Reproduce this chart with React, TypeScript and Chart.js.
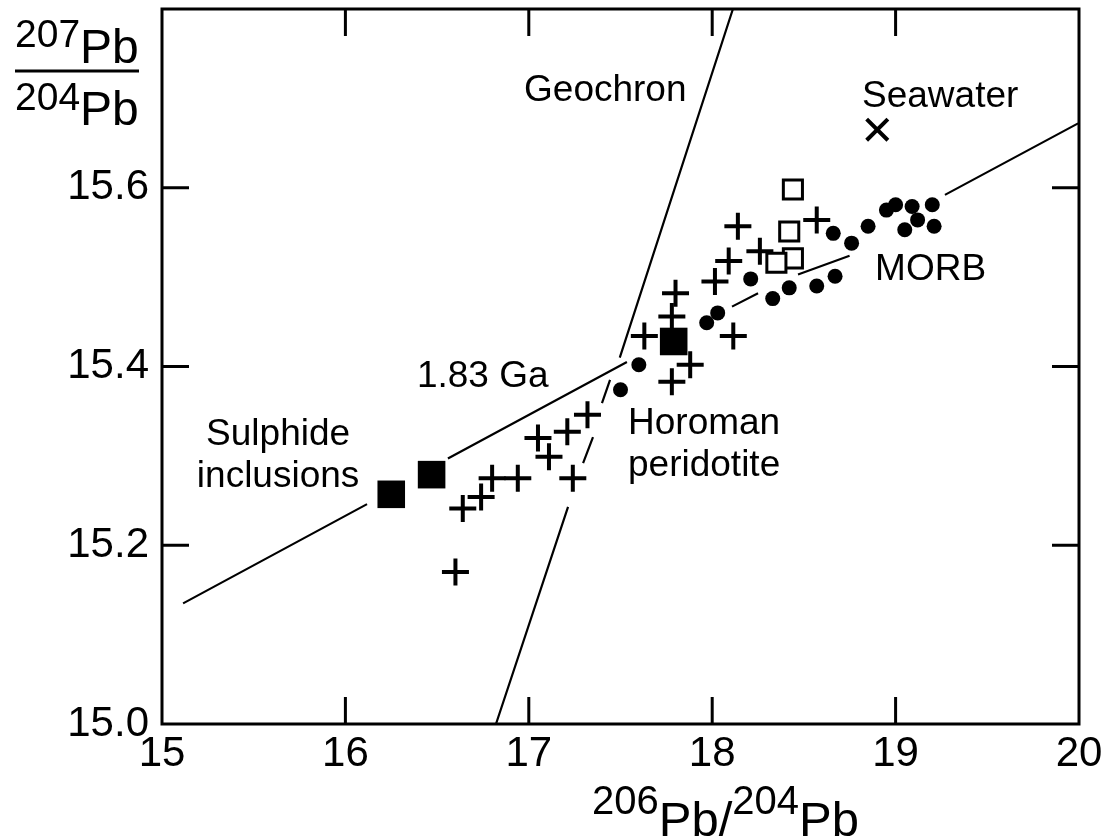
import React, { useEffect, useRef } from 'react';
import { Chart, registerables } from 'chart.js';

Chart.register(...registerables);

const FONT = '"Liberation Sans", Arial, Helvetica, sans-serif';

const xTickValues = [15, 16, 17, 18, 19, 20];
const yTickValues = [15.0, 15.2, 15.4, 15.6];

// Horoman peridotite (crosses)
const horomanX = [16.60, 16.64, 16.74, 16.80, 16.94, 17.05, 17.11, 17.21, 17.24, 17.32, 17.63, 17.78, 17.88, 17.78, 17.80, 18.015, 18.09, 18.14, 18.26, 18.115, 18.57];
const horomanY = [15.170, 15.241, 15.254, 15.275, 15.275, 15.320, 15.299, 15.327, 15.275, 15.346, 15.434, 15.383, 15.402, 15.456, 15.482, 15.495, 15.518, 15.557, 15.529, 15.434, 15.564];

// MORB (dots)
const morbX = [17.50, 17.60, 17.97, 18.03, 18.21, 18.33, 18.42, 18.57, 18.67, 18.66, 18.76, 18.85, 18.95, 19.00, 19.09, 19.20, 19.12, 19.05, 19.21];
const morbY = [15.374, 15.402, 15.449, 15.460, 15.498, 15.476, 15.488, 15.490, 15.501, 15.549, 15.538, 15.557, 15.575, 15.581, 15.579, 15.581, 15.564, 15.553, 15.557];

// open squares
const openSqX = [18.44, 18.42, 18.44, 18.35];
const openSqY = [15.598, 15.551, 15.521, 15.516];

// sulphide inclusions (filled squares)
const sulphideX = [16.25, 16.47, 17.79];
const sulphideY = [15.257, 15.279, 15.428];

// seawater
const seawaterX = [18.90];
const seawaterY = [15.665];

// Geochron line segments [x1, y1, x2, y2]
const geochronSegments = [
  [18.113, 15.800, 17.496, 15.410],
  [17.443, 15.385, 17.399, 15.359],
  [17.350, 15.321, 17.296, 15.292],
  [17.214, 15.243, 16.821, 15.000],
];

// 1.83 Ga isochron segments [x1, y1, x2, y2]
const isochronSegments = [
  [15.115, 15.135, 16.118, 15.246],
  [16.559, 15.297, 17.535, 15.405],
  [18.108, 15.467, 18.250, 15.482],
  [18.468, 15.503, 18.749, 15.524],
  [19.269, 15.592, 19.995, 15.672],
];

// text annotations (data coords, baseline)
const annoText = ['Geochron', 'Seawater', 'MORB', '1.83 Ga', 'Sulphide', 'inclusions', 'Horoman', 'peridotite'];
const annoX = [16.974, 18.817, 18.888, 16.390, 15.633, 15.633, 17.541, 17.541];
const annoY = [15.697, 15.690, 15.497, 15.377, 15.312, 15.265, 15.324, 15.277];
const annoAlign = ['left', 'left', 'left', 'left', 'center', 'center', 'left', 'left'];

const pts = (xs: number[], ys: number[]) => xs.map((x, i) => ({ x, y: ys[i] }));
const segs = (s: number[][]) => {
  const out: { x: number | null; y: number | null }[] = [];
  s.forEach((g, i) => {
    if (i > 0) out.push({ x: null, y: null });
    out.push({ x: g[0], y: g[1] });
    out.push({ x: g[2], y: g[3] });
  });
  return out;
};

const drawRuns = (ctx: CanvasRenderingContext2D, x0: number, runs: [string, number, number][]) => {
  let x = x0;
  for (const [t, size, base] of runs) {
    ctx.font = `${size}px ${FONT}`;
    ctx.fillText(t, x, base);
    x += ctx.measureText(t).width;
  }
};

const framePlugin = {
  id: 'frameAndText',
  afterDatasetsDraw(chart: any) {
    const { ctx, chartArea: a, scales } = chart;
    const xs = scales.x;
    const ys = scales.y;
    ctx.save();
    ctx.strokeStyle = '#000';
    ctx.fillStyle = '#000';
    ctx.lineWidth = 3;
    ctx.strokeRect(a.left, a.top, a.right - a.left, a.bottom - a.top);
    const TL = 27;
    ctx.beginPath();
    for (const v of xTickValues) {
      const px = xs.getPixelForValue(v);
      if (px <= a.left + 1 || px >= a.right - 1) continue;
      ctx.moveTo(px, a.bottom);
      ctx.lineTo(px, a.bottom - TL);
      ctx.moveTo(px, a.top);
      ctx.lineTo(px, a.top + TL);
    }
    for (const v of yTickValues) {
      const py = ys.getPixelForValue(v);
      if (py >= a.bottom - 1 || py <= a.top + 1) continue;
      ctx.moveTo(a.left, py);
      ctx.lineTo(a.left + TL, py);
      ctx.moveTo(a.right, py);
      ctx.lineTo(a.right - TL, py);
    }
    ctx.stroke();

    // annotations
    ctx.font = `37px ${FONT}`;
    ctx.textBaseline = 'alphabetic';
    annoText.forEach((t, i) => {
      ctx.textAlign = annoAlign[i] as CanvasTextAlign;
      ctx.fillText(t, xs.getPixelForValue(annoX[i]), ys.getPixelForValue(annoY[i]));
    });

    // y axis title (fraction)
    ctx.textAlign = 'left';
    drawRuns(ctx, 15, [['207', 39, 47], ['Pb', 48, 63]]);
    ctx.lineWidth = 3;
    ctx.beginPath();
    ctx.moveTo(15, 71);
    ctx.lineTo(139, 71);
    ctx.stroke();
    drawRuns(ctx, 15, [['204', 39, 110], ['Pb', 48, 125]]);

    // x axis title
    drawRuns(ctx, 592, [['206', 40, 814], ['Pb', 49, 836], ['/', 49, 836], ['204', 40, 814], ['Pb', 49, 836]]);
    ctx.restore();
  },
};

export default function App() {
  const ref = useRef<HTMLCanvasElement | null>(null);
  useEffect(() => {
    document.body.style.margin = '0';
    const canvas = ref.current!;
    Chart.defaults.color = '#000';
    const chart = new Chart(canvas, {
      type: 'scatter',
      data: {
        datasets: [
          {
            label: 'Seawater',
            data: pts(seawaterX, seawaterY),
            pointStyle: 'crossRot',
            pointRadius: 15,
            borderWidth: 4,
            borderColor: '#000',
            backgroundColor: '#000',
          },
          {
            label: 'Sulphide inclusions',
            data: pts(sulphideX, sulphideY),
            pointStyle: 'rect',
            pointRadius: 19.5,
            borderWidth: 0,
            borderColor: '#000',
            backgroundColor: '#000',
          },
          {
            label: 'Open squares',
            data: pts(openSqX, openSqY),
            pointStyle: 'rect',
            pointRadius: 13.5,
            borderWidth: 3,
            borderColor: '#000',
            backgroundColor: '#fff',
          },
          {
            label: 'Horoman peridotite',
            data: pts(horomanX, horomanY),
            pointStyle: 'cross',
            pointRadius: 13.5,
            borderWidth: 4,
            borderColor: '#000',
            backgroundColor: '#000',
          },
          {
            label: 'MORB',
            data: pts(morbX, morbY),
            pointStyle: 'circle',
            pointRadius: 7.5,
            borderWidth: 0,
            borderColor: '#000',
            backgroundColor: '#000',
          },
          {
            label: 'Geochron',
            data: segs(geochronSegments) as any,
            showLine: true,
            spanGaps: false,
            pointRadius: 0,
            borderWidth: 2.2,
            borderColor: '#000',
          },
          {
            label: '1.83 Ga',
            data: segs(isochronSegments) as any,
            showLine: true,
            spanGaps: false,
            pointRadius: 0,
            borderWidth: 2.2,
            borderColor: '#000',
          },
        ],
      },
      options: {
        animation: false,
        responsive: false,
        maintainAspectRatio: false,
        events: [],
        layout: { autoPadding: false, padding: { top: 9, right: 34, left: 0, bottom: 0 } },
        plugins: { legend: { display: false }, tooltip: { enabled: false } },
        scales: {
          x: {
            type: 'linear',
            min: 15,
            max: 20,
            grid: { display: false, drawTicks: false },
            border: { display: false },
            afterBuildTicks: (s: any) => {
              s.ticks = xTickValues.map((v) => ({ value: v }));
            },
            afterFit: (s: any) => {
              s.height = 116;
              s.paddingLeft = 0;
              s.paddingRight = 0;
            },
            ticks: {
              font: { family: FONT, size: 42 },
              color: '#000',
              padding: 5,
              maxRotation: 0,
              callback: (v: any) => String(v),
            },
          },
          y: {
            type: 'linear',
            min: 15.0,
            max: 15.8,
            grid: { display: false, drawTicks: false },
            border: { display: false },
            afterBuildTicks: (s: any) => {
              s.ticks = yTickValues.map((v) => ({ value: v }));
            },
            afterFit: (s: any) => {
              s.width = 162;
              s.paddingTop = 0;
              s.paddingBottom = 0;
            },
            ticks: {
              font: { family: FONT, size: 42 },
              color: '#000',
              padding: 13,
              callback: (v: any) => Number(v).toFixed(1),
            },
          },
        },
      },
      plugins: [framePlugin],
    });
    return () => chart.destroy();
  }, []);
  return (
    <div style={{ position: 'fixed', left: 0, top: 0, width: 1113, height: 840, background: '#fff' }}>
      <canvas ref={ref} width={1113} height={840} style={{ width: 1113, height: 840, display: 'block' }} />
    </div>
  );
}
